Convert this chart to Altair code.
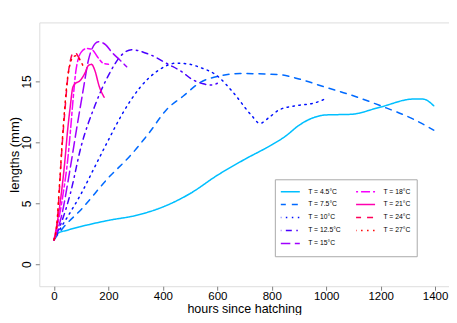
import altair as alt
import pandas as pd

# ---- data ----
temps = ["T = 4.5°C", "T = 7.5°C", "T = 10°C", "T = 12.5°C", "T = 15°C",
         "T = 18°C", "T = 21°C", "T = 24°C", "T = 27°C"]

h_45 = [0, 10, 50, 100, 200, 300, 400, 500, 600, 700, 800, 850, 900, 950, 1000, 1090, 1200, 1320, 1355, 1395]
l_45 = [2.0, 2.5, 2.8, 3.1, 3.6, 4.0, 4.7, 5.8, 7.3, 8.6, 9.8, 10.5, 11.4, 12.0, 12.25, 12.3, 12.9, 13.55, 13.55, 13.0]

h_75 = [0, 30, 100, 200, 280, 350, 414, 475, 536, 609, 683, 780, 830, 900, 1000, 1075, 1200, 1320, 1395]
l_75 = [2.0, 2.9, 4.5, 7.1, 8.9, 10.8, 12.7, 13.8, 14.9, 15.45, 15.65, 15.6, 15.55, 15.2, 14.5, 14.0, 13.0, 11.9, 11.0]

h_10 = [0, 20, 50, 100, 150, 200, 250, 316, 383, 450, 500, 536, 597, 658, 726, 756, 793, 830, 903, 952, 1000]
l_10 = [2.0, 2.8, 3.9, 5.8, 8.0, 10.2, 12.3, 14.5, 15.9, 16.5, 16.4, 16.15, 15.5, 14.1, 12.2, 11.55, 12.1, 12.7, 13.05, 13.2, 13.6]

h_125 = [0, 30, 60, 100, 150, 200, 250, 285, 352, 420, 469, 505, 548, 580, 600]
l_125 = [2.0, 3.6, 5.8, 9.7, 13.0, 15.5, 17.2, 17.6, 17.2, 16.4, 15.8, 15.2, 14.8, 14.7, 14.85]

h_15 = [0, 28, 59, 83, 108, 126, 138, 163, 190, 212, 240, 267]
l_15 = [2.0, 4.0, 7.8, 11.1, 14.4, 16.7, 17.6, 18.25, 18.0, 17.4, 16.8, 16.2]

h_18 = [0, 20, 35, 50, 61, 70, 80, 100, 120, 140, 160, 180, 200]
l_18 = [2.0, 4.0, 6.0, 8.5, 11.1, 13.5, 15.8, 17.4, 17.7, 17.6, 17.0, 16.5, 16.4]

h_21 = [0, 16, 40, 50, 59, 69, 77, 95, 114, 126, 138, 150, 166, 184]
l_21 = [2.0, 4.0, 8.5, 11.0, 12.8, 14.5, 14.8, 15.05, 15.7, 16.3, 16.4, 15.9, 14.6, 13.7]

h_24 = [0, 10, 20, 30, 40, 50, 60, 70, 80, 90, 100]
l_24 = [2.0, 3.0, 6.2, 9.8, 12.6, 15.2, 16.7, 17.3, 17.3, 17.0, 16.6]

h_27 = [0, 10, 20, 30, 40, 50, 60, 70, 80, 90, 100, 108]
l_27 = [2.0, 3.2, 6.5, 10.0, 13.0, 15.3, 16.5, 17.0, 17.1, 16.9, 16.6, 16.2]

x_ticks = [0, 200, 400, 600, 800, 1000, 1200, 1400]
y_ticks = [0, 5, 10, 15]

colors = ["#00BFFF", "#006AFF", "#0010FF", "#4900FF", "#A000FF",
          "#F700FF", "#FF00AF", "#FF0058", "#FF0000"]
dashes = [[1, 0], [6, 6], [1.5, 4.5], [1.5, 4.5, 6, 4.5], [10.5, 4.5],
          [3, 3, 9, 3], [1, 0], [6, 6], [1.5, 4.5]]

series_h = [h_45, h_75, h_10, h_125, h_15, h_18, h_21, h_24, h_27]
series_l = [l_45, l_75, l_10, l_125, l_15, l_18, l_21, l_24, l_27]

rows = []
for i, (hs, ls) in enumerate(zip(series_h, series_l)):
    for hh, ll in zip(hs, ls):
        rows.append({"T": temps[i], "idx": i, "hours": hh, "length": ll})
df = pd.DataFrame(rows)

FONT = "Liberation Sans"

leg = alt.Legend(
    title=None, orient="none", legendX=235.7, legendY=157, columns=2,
    symbolType="stroke", symbolSize=400, symbolStrokeWidth=1.5,
    labelFont=FONT, labelFontSize=6.8, labelColor="black",
    padding=6, clipHeight=12.3, rowPadding=0, columnPadding=14.3,
    symbolOffset=-2, labelOffset=7.4,
    strokeColor="#AAAAAA", fillColor="white",
    labelExpr="datum.label + '" + "\u00a0" * 10 + "'",
)

chart = alt.Chart(df).mark_line(
    interpolate="monotone", strokeWidth=1.5, strokeCap="round"
).encode(
    x=alt.X("hours:Q",
            scale=alt.Scale(domain=[-54, 1451], nice=False, zero=False),
            axis=alt.Axis(values=x_ticks, format="d", title="hours since hatching", grid=False,
                          domain=False, tickColor="#808080", tickSize=4,
                          labelFont=FONT, labelFontSize=11.5, labelColor="black",
                          labelPadding=0, labelFlush=False,
                          titleFont=FONT, titleFontSize=12.5, titleFontWeight="normal",
                          titleColor="black", titleX=205, titleY=26.2,
                          titleAlign="center", titleBaseline="alphabetic")),
    y=alt.Y("length:Q",
            scale=alt.Scale(domain=[-1.8, 19.84], nice=False, zero=False),
            axis=alt.Axis(values=y_ticks, format="d", title="lengths (mm)", grid=False,
                          domain=False, tickColor="#808080", tickSize=4,
                          labelFont=FONT, labelFontSize=12, labelColor="black",
                          labelAngle=270, labelAlign="center", labelBaseline="alphabetic",
                          labelPadding=5, labelFlush=False,
                          titleFont=FONT, titleFontSize=13, titleFontWeight="normal",
                          titleColor="black", titleAngle=270, titleX=-24.5, titleY=132,
                          titleAlign="center", titleBaseline="middle")),
    color=alt.Color("T:N", scale=alt.Scale(domain=temps, range=colors), legend=leg),
    strokeDash=alt.StrokeDash("T:N", scale=alt.Scale(domain=temps, range=dashes), legend=leg),
    order=alt.Order("hours:Q"),
).properties(
    width=410, height=264,
    autosize=alt.AutoSizeParams(type="none"),
    padding={"left": 31.33, "top": 14.3, "right": 0, "bottom": 28.7},
).configure_view(
    stroke="#808080", strokeWidth=1
).configure(background="white")

chart.save("out.html", embed_options={"renderer": "svg", "actions": False})
